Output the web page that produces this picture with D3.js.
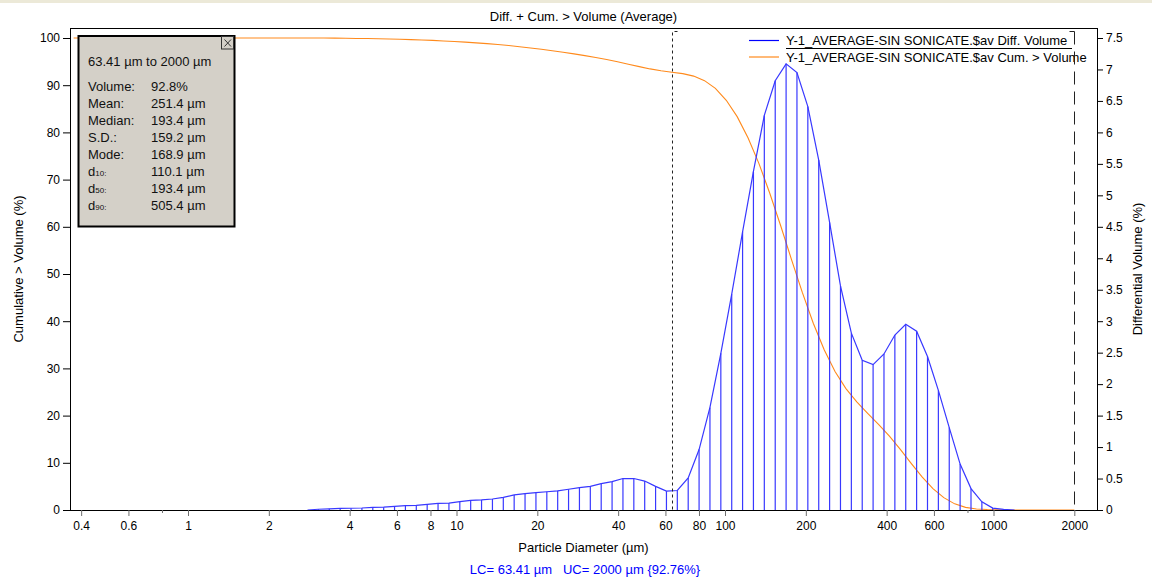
<!DOCTYPE html>
<html>
<head>
<meta charset="utf-8">
<script src="https://cdn.jsdelivr.net/npm/d3@7"></script>
<style>
  body { margin: 0; background: #fff; }
  svg text { font-family: "Liberation Sans", Arial, sans-serif; }
</style>
</head>
<body>
<div id="chart"></div>
<script>
// size class edges of the instrument (um), 92 channels
const channelEdges = [0.375, 0.412, 0.452, 0.496, 0.545, 0.598, 0.656, 0.721, 0.791, 0.868,
  0.953, 1.047, 1.149, 1.261, 1.385, 1.520, 1.669, 1.832, 2.011, 2.208,
  2.423, 2.660, 2.920, 3.206, 3.519, 3.863, 4.241, 4.656, 5.111, 5.611,
  6.159, 6.761, 7.422, 8.148, 8.944, 9.819, 10.78, 11.83, 12.99, 14.26,
  15.65, 17.18, 18.86, 20.71, 22.73, 24.95, 27.39, 30.07, 33.01, 36.24,
  39.78, 43.67, 47.94, 52.62, 57.77, 63.41, 69.61, 76.42, 83.89, 92.09,
  101.1, 111.0, 121.8, 133.7, 146.8, 161.2, 176.9, 194.2, 213.2, 234.1,
  256.9, 282.1, 309.6, 339.9, 373.1, 409.6, 449.7, 493.6, 541.9, 594.9,
  653.0, 716.9, 786.9, 863.9, 948.3, 1041, 1143, 1255, 1377, 1512,
  1660, 1822, 2000];

// differential volume (%) per channel
const diffVolume = [0, 0, 0, 0, 0, 0, 0, 0, 0, 0,
  0, 0, 0, 0, 0, 0, 0, 0, 0, 0,
  0, 0, 0.012, 0.018, 0.025, 0.028, 0.032, 0.042, 0.045, 0.058,
  0.069, 0.072, 0.09, 0.106, 0.11, 0.132, 0.154, 0.16, 0.175, 0.20,
  0.24, 0.26, 0.275, 0.29, 0.305, 0.33, 0.355, 0.375, 0.42, 0.45,
  0.50, 0.50, 0.46, 0.375, 0.30, 0.31, 0.51, 0.96, 1.63, 2.49,
  3.43, 4.42, 5.38, 6.27, 6.82, 7.09, 6.95, 6.41, 5.56, 4.57,
  3.56, 2.81, 2.38, 2.31, 2.48, 2.78, 2.95, 2.84, 2.44, 1.90,
  1.31, 0.73, 0.34, 0.13, 0.03, 0.01, 0, 0, 0, 0,
  0, 0];

// cumulative > volume (%) at each channel edge
const cumVolume = [100, 100, 100, 100, 100, 100, 100, 100, 100, 100,
  100, 100, 100, 100, 100, 100, 100, 100, 100, 100,
  100, 100, 100, 99.99, 99.97, 99.94, 99.91, 99.88, 99.84, 99.79,
  99.73, 99.66, 99.58, 99.49, 99.38, 99.26, 99.13, 98.97, 98.80, 98.62,
  98.41, 98.16, 97.89, 97.60, 97.30, 96.98, 96.64, 96.27, 95.88, 95.44,
  94.97, 94.45, 93.93, 93.45, 93.06, 92.76, 92.45, 91.93, 90.96, 89.32,
  86.80, 83.34, 78.87, 73.44, 67.11, 60.22, 53.06, 46.04, 39.56, 33.95,
  29.33, 25.73, 22.90, 20.49, 18.16, 15.66, 12.85, 9.87, 7.00, 4.54,
  2.62, 1.30, 0.56, 0.22, 0.09, 0.03, 0, 0, 0, 0,
  0, 0, 0];

const xTicks = [0.4, 0.6, 1, 2, 4, 6, 8, 10, 20, 40, 60, 80, 100, 200, 400, 600, 1000, 2000];
const xMinorTicks = [0.8, 800];
const leftTicks = [0, 10, 20, 30, 40, 50, 60, 70, 80, 90, 100];
const rightTicks = [0, 0.5, 1, 1.5, 2, 2.5, 3, 3.5, 4, 4.5, 5, 5.5, 6, 6.5, 7, 7.5];

const lowerCut = 63.41, upperCut = 2000;
const statsRange = "63.41 µm to 2000 µm";
const statsLabels = ["Volume:", "Mean:", "Median:", "S.D.:", "Mode:", "d|10|:", "d|50|:", "d|90|:"];
const statsValues = ["92.8%", "251.4 µm", "193.4 µm", "159.2 µm", "168.9 µm", "110.1 µm", "193.4 µm", "505.4 µm"];
const legendNames = ["Y-1_AVERAGE-SIN SONICATE.$av Diff. Volume", "Y-1_AVERAGE-SIN SONICATE.$av Cum. > Volume"];

const W = 1152, H = 583;
const pLeft = 70, pRight = 1097, pTop = 28, pBottom = 510;
const blue = "#3838ff", orange = "#ff8a1c";

const svg = d3.select("#chart").append("svg")
  .attr("width", W).attr("height", H);

svg.append("rect").attr("width", W).attr("height", H).attr("fill", "#fff");
svg.append("rect").attr("width", W).attr("height", 3).attr("fill", "#ece9d8");

const x = d3.scaleLog().domain([1, 1000]).range([188, 993.5]);
const yL = d3.scaleLinear().domain([0, 100]).range([pBottom, 38]);
const yR = d3.scaleLinear().domain([0, 7.5]).range([pBottom, 38]);

// channel centres (geometric mean of the edges)
const centres = diffVolume.map((v, i) => Math.sqrt(channelEdges[i] * channelEdges[i + 1]));
const first = Math.max(0, diffVolume.findIndex(v => v > 0) - 1);
let last = diffVolume.length - 1;
while (last > 0 && diffVolume[last] === 0) last--;
last = Math.min(diffVolume.length - 1, last + 1);
const diffData = d3.range(first, last + 1).map(i => ({ d: centres[i], v: diffVolume[i] }));
const cumData = channelEdges.map((d, i) => ({ d: d, v: cumVolume[i] }));

// title
svg.append("text").attr("x", (pLeft + pRight) / 2).attr("y", 21)
  .attr("text-anchor", "middle").attr("font-size", 13)
  .text("Diff. + Cum. > Volume (Average)");

// cumulative curve
svg.append("path").datum(cumData)
  .attr("fill", "none").attr("stroke", orange).attr("stroke-width", 1.1)
  .attr("d", d3.line().x(d => x(d.d)).y(d => yL(d.v)));

// differential bars + curve
svg.append("g").selectAll("line")
  .data(diffData.filter(d => d.v > 0))
  .join("line")
  .attr("x1", d => x(d.d)).attr("x2", d => x(d.d))
  .attr("y1", yR(0)).attr("y2", d => yR(d.v))
  .attr("stroke", blue).attr("stroke-width", 1.2);

svg.append("path").datum(diffData)
  .attr("fill", "none").attr("stroke", blue).attr("stroke-width", 1.2)
  .attr("d", d3.line().x(d => x(d.d)).y(d => yR(d.v)));

// frame
svg.append("rect")
  .attr("x", pLeft + 0.5).attr("y", pTop + 0.5)
  .attr("width", pRight - pLeft).attr("height", pBottom - pTop)
  .attr("fill", "none").attr("stroke", "#000");

// axes
const gx = svg.append("g").attr("transform", `translate(0,${pBottom})`)
  .call(d3.axisBottom(x).tickValues(xTicks).tickFormat(d => String(d)).tickSize(6).tickPadding(5));
gx.select(".domain").remove();
gx.selectAll("line").attr("stroke", "#6e6e6e");
gx.selectAll("text").attr("font-size", 12).attr("fill", "#000")
  .attr("font-family", "Liberation Sans, Arial, sans-serif");

const gxm = svg.append("g").attr("transform", `translate(0,${pBottom})`)
  .call(d3.axisBottom(x).tickValues(xMinorTicks).tickFormat("").tickSize(3));
gxm.select(".domain").remove();
gxm.selectAll("line").attr("stroke", "#6e6e6e");

const gl = svg.append("g").attr("transform", `translate(${pLeft},0)`)
  .call(d3.axisLeft(yL).tickValues(leftTicks).tickSize(7).tickPadding(3));
gl.select(".domain").remove();
gl.selectAll("text").attr("font-size", 12).attr("fill", "#000")
  .attr("font-family", "Liberation Sans, Arial, sans-serif");

const gr = svg.append("g").attr("transform", `translate(${pRight},0)`)
  .call(d3.axisRight(yR).tickValues(rightTicks).tickFormat(d => String(d)).tickSize(6).tickPadding(3));
gr.select(".domain").remove();
gr.selectAll("text").attr("font-size", 12).attr("fill", "#000")
  .attr("font-family", "Liberation Sans, Arial, sans-serif");

// axis titles
svg.append("text").attr("transform", `translate(23,${(pTop + pBottom) / 2}) rotate(-90)`)
  .attr("text-anchor", "middle").attr("font-size", 13)
  .text("Cumulative > Volume (%)");
svg.append("text").attr("transform", `translate(1142,${(pTop + pBottom) / 2}) rotate(-90)`)
  .attr("text-anchor", "middle").attr("font-size", 13)
  .text("Differential Volume (%)");
svg.append("text").attr("x", (pLeft + pRight) / 2).attr("y", 552)
  .attr("text-anchor", "middle").attr("font-size", 13)
  .text("Particle Diameter (µm)");
svg.append("text").attr("x", 585).attr("y", 573.5)
  .attr("text-anchor", "middle").attr("font-size", 13).attr("fill", "#0000ff")
  .attr("xml:space", "preserve").style("white-space", "pre")
  .text(`LC= ${lowerCut} µm   UC= ${upperCut} µm {92.76%}`);

// legend
const leg = svg.append("g");
legendNames.forEach((name, i) => {
  const yy = 40.5 + i * 16.5;
  leg.append("line").attr("x1", 749).attr("x2", 779).attr("y1", yy).attr("y2", yy)
    .attr("stroke", i === 0 ? "#0000ff" : orange).attr("stroke-width", 1.2);
  leg.append("text").attr("x", 786).attr("y", yy + 4.5).attr("font-size", 13).text(name);
});
leg.append("line").attr("x1", 786).attr("x2", 1072).attr("y1", 48.5).attr("y2", 48.5)
  .attr("stroke", "#000");

// cut lines
const xl = Math.round(x(lowerCut)) + 0.5, xu = Math.round(x(upperCut)) + 0.5;
svg.append("path").attr("d", `M${xl + 5},31.5H${xl}V${pBottom}`)
  .attr("fill", "none").attr("stroke", "#222").attr("stroke-dasharray", "3,3");
svg.append("path").attr("d", `M${xu - 5},31.5H${xu}`)
  .attr("fill", "none").attr("stroke", "#222");
svg.append("line").attr("x1", xu).attr("x2", xu).attr("y1", 31.5).attr("y2", pBottom)
  .attr("stroke", "#222").attr("stroke-dasharray", "13,7");

// statistics box
const box = svg.append("g");
box.append("rect").attr("x", 78.5).attr("y", 36).attr("width", 156).attr("height", 190.5)
  .attr("fill", "#d4d0c8").attr("stroke", "#000").attr("stroke-width", 2);
box.append("rect").attr("x", 221.5).attr("y", 36.5).attr("width", 12).attr("height", 12.5)
  .attr("fill", "#d4d0c8").attr("stroke", "#333");
box.append("path").attr("d", "M224.5,39.5L231,46.5M231,39.5L224.5,46.5")
  .attr("stroke", "#333").attr("stroke-width", 1);
box.append("text").attr("x", 88).attr("y", 66).attr("font-size", 13).attr("fill", "#111").text(statsRange);
statsLabels.forEach((lab, i) => {
  const yy = 90.7 + i * 17;
  const t = box.append("text").attr("x", 88).attr("y", yy).attr("font-size", 13).attr("fill", "#111");
  const parts = lab.split("|");
  if (parts.length === 3) {
    t.append("tspan").text(parts[0]);
    t.append("tspan").attr("font-size", 8).text(parts[1]);
    t.append("tspan").attr("font-size", 8).text(parts[2]);
  } else {
    t.text(lab);
  }
  box.append("text").attr("x", 151).attr("y", yy).attr("font-size", 13).attr("fill", "#111").text(statsValues[i]);
});
</script>
</body>
</html>
